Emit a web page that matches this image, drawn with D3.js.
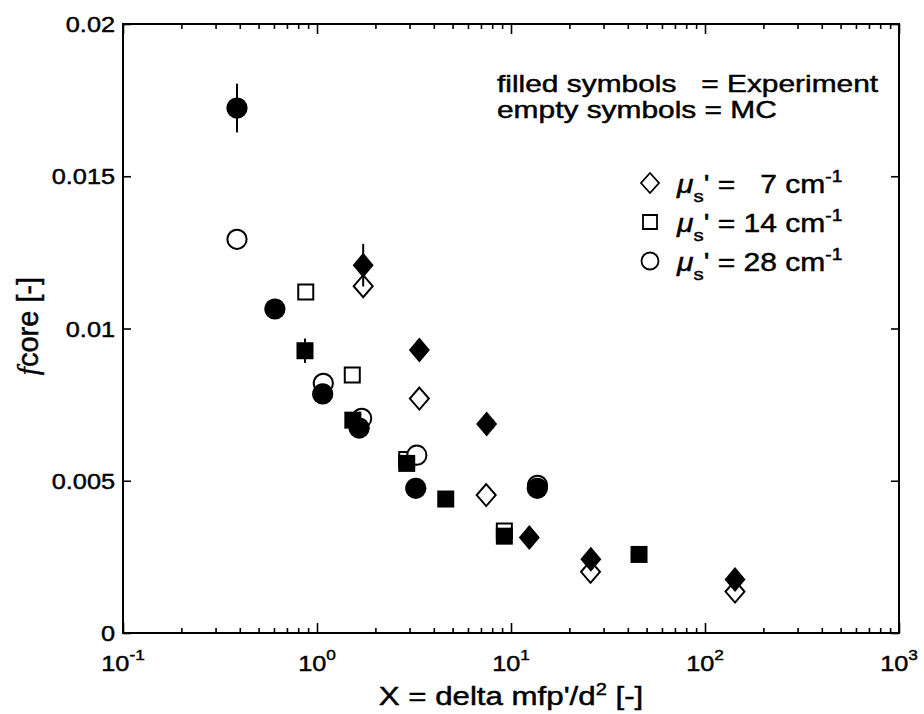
<!DOCTYPE html>
<html><head><meta charset="utf-8">
<script src="https://cdn.jsdelivr.net/npm/d3@7"></script>
<style>
body{margin:0;background:#fff}
text{font-family:"Liberation Sans",Arial,Helvetica,sans-serif;fill:#000;white-space:pre;stroke:#000;stroke-width:0.45px}
</style>
</head><body>
<svg id="c" width="924" height="714"></svg>
<script>
// ---------- data ----------
const xTickExps = ["-1","0","1","2","3"];
const yTickValues = [0, 0.005, 0.01, 0.015, 0.02];
const yTickLabels = ["0", "0.005", "0.01", "0.015", "0.02"];

// mu_s' = 7 cm^-1 (diamonds)
const exp7X = [1.73, 3.37, 7.49, 12.43, 25.8, 142.8];
const exp7Y = [0.01208, 0.00929, 0.00686, 0.00314, 0.00242, 0.00176];
const exp7Err = [0.0007, 0, 0, 0, 0, 0];
const mc7X = [1.73, 3.37, 7.45, 25.7, 142.8];
const mc7Y = [0.01139, 0.0077, 0.00453, 0.00201, 0.00136];

// mu_s' = 14 cm^-1 (squares)
const exp14X = [0.867, 1.53, 2.90, 4.61, 9.24, 45.7];
const exp14Y = [0.00927, 0.00699, 0.00557, 0.0044, 0.00318, 0.00258];
const exp14Err = [0.0004, 0, 0, 0, 0, 0];
const mc14X = [0.875, 1.52, 2.90, 9.24];
const mc14Y = [0.0112, 0.00847, 0.0057, 0.00335];

// mu_s' = 28 cm^-1 (circles)
const exp28X = [0.387, 0.607, 1.07, 1.65, 3.23, 13.67];
const exp28Y = [0.01724, 0.01064, 0.00785, 0.00673, 0.00475, 0.00475];
const exp28Err = [0.0008, 0, 0.0003, 0, 0, 0];
const mc28X = [0.387, 1.078, 1.70, 3.27, 13.7];
const mc28Y = [0.01293, 0.0082, 0.00705, 0.00584, 0.00485];

const legendValues = ["  7", "14", "28"];
const legendShapes = ["diamond", "square", "circle"];

// ---------- layout ----------
const L = 123, R = 899, T = 24, B = 633;
const svg = d3.select("#c");
const x = d3.scaleLog().domain([0.1, 1000]).range([L, R]);
const y = d3.scaleLinear().domain([0, 0.02]).range([B, T]);

function stext(parent, px, py, sx, anchor, fs) {
  return parent.append("text")
    .attr("transform", `translate(${px},${py}) scale(${sx},1)`)
    .attr("text-anchor", anchor || "start")
    .attr("font-size", fs);
}

// shapes
const diamondType = (w, h) => ({draw(ctx) {
  ctx.moveTo(0, -h / 2); ctx.lineTo(w / 2, 0); ctx.lineTo(0, h / 2); ctx.lineTo(-w / 2, 0); ctx.closePath();
}});
const squareType = (s) => ({draw(ctx) { ctx.rect(-s / 2, -s / 2, s, s); }});
const circleType = (r) => ({draw(ctx) { ctx.moveTo(r, 0); ctx.arc(0, 0, r, 0, 2 * Math.PI); ctx.closePath(); }});

const shapeFilled = {diamond: diamondType(21, 25), square: squareType(17), circle: circleType(10.6)};
const shapeOpen = {diamond: diamondType(19, 22), square: squareType(15), circle: circleType(9.6)};
const shapeLegend = {diamond: diamondType(18, 20), square: squareType(14), circle: circleType(8.5)};

// ---------- axes box & ticks ----------
const majors = [0.1, 1, 10, 100, 1000];
const minors = [];
[0.1, 1, 10, 100].forEach(d => { for (let k = 2; k <= 9; k++) minors.push(d * k); });

function tickGroup(axisFn, scale, vals, size, tr) {
  const g = svg.append("g").attr("transform", tr)
    .call(axisFn(scale).tickValues(vals).tickSizeInner(-size).tickSizeOuter(0).tickFormat(""));
  g.select(".domain").remove();
  g.selectAll(".tick line").attr("stroke", "#000").attr("stroke-width", 1.6);
}
tickGroup(d3.axisBottom, x, majors, 10, `translate(0,${B})`);
tickGroup(d3.axisBottom, x, minors, 5, `translate(0,${B})`);
tickGroup(d3.axisTop, x, majors, 10, `translate(0,${T})`);
tickGroup(d3.axisTop, x, minors, 5, `translate(0,${T})`);
tickGroup(d3.axisLeft, y, yTickValues, 8, `translate(${L},0)`);
tickGroup(d3.axisRight, y, yTickValues, 8, `translate(${R},0)`);

svg.append("rect").attr("x", L).attr("y", T).attr("width", R - L).attr("height", B - T)
  .attr("fill", "none").attr("stroke", "#000").attr("stroke-width", 2);

// tick labels
yTickValues.forEach((v, i) => {
  stext(svg, 115, y(v) + 8, 1.15, "end", 22).text(yTickLabels[i]);
});
xTickExps.forEach(e => {
  const t = stext(svg, x(Math.pow(10, +e)), 671, 1.15, "middle", 22);
  t.append("tspan").text("10");
  t.append("tspan").attr("dy", -11).attr("font-size", 15).text(e);
});

// axis titles
const xt = stext(svg, 511, 705, 1.25, "middle", 25);
xt.append("tspan").text("X = delta mfp'/d");
xt.append("tspan").attr("dy", -10).attr("font-size", 16).text("2");
xt.append("tspan").attr("dy", 10).text(" [-]");

const yt = svg.append("text").attr("transform", "translate(38,326) rotate(-90)")
  .attr("text-anchor", "middle").attr("font-size", 29);
yt.append("tspan").attr("font-family", "'Liberation Serif','Times New Roman',serif").attr("font-style", "italic").text("f");
yt.append("tspan").text("core [-]");

// ---------- data marks ----------
function openMarks(xs, ys, shape) {
  svg.append("g").selectAll("path").data(xs.map((d, i) => [d, ys[i]])).join("path")
    .attr("d", d3.symbol().type(shapeOpen[shape])())
    .attr("transform", d => `translate(${x(d[0])},${y(d[1])})`)
    .attr("fill", "#fff").attr("stroke", "#000").attr("stroke-width", 2);
}
function filledMarks(xs, ys, errs, shape) {
  const data = xs.map((d, i) => [d, ys[i], errs[i]]);
  svg.append("g").selectAll("path").data(data).join("path")
    .attr("d", d3.symbol().type(shapeFilled[shape])())
    .attr("transform", d => `translate(${x(d[0])},${y(d[1])})`)
    .attr("fill", "#000");
  svg.append("g").selectAll("line").data(data.filter(d => d[2] > 0)).join("line")
    .attr("x1", d => x(d[0])).attr("x2", d => x(d[0]))
    .attr("y1", d => y(d[1] - d[2])).attr("y2", d => y(d[1] + d[2]))
    .attr("stroke", "#000").attr("stroke-width", 2);
}
openMarks(mc7X, mc7Y, "diamond");
openMarks(mc14X, mc14Y, "square");
openMarks(mc28X, mc28Y, "circle");
filledMarks(exp7X, exp7Y, exp7Err, "diamond");
filledMarks(exp14X, exp14Y, exp14Err, "square");
filledMarks(exp28X, exp28Y, exp28Err, "circle");

// ---------- legend ----------
stext(svg, 497, 92, 1.3, "start", 23).text("filled symbols   = Experiment");
stext(svg, 497, 118, 1.3, "start", 23).text("empty symbols = MC");

const legBase = [193, 232, 271];
legendValues.forEach((v, i) => {
  svg.append("path").attr("d", d3.symbol().type(shapeLegend[legendShapes[i]])())
    .attr("transform", `translate(650,${legBase[i] - 10})`)
    .attr("fill", "#fff").attr("stroke", "#000").attr("stroke-width", 1.8);
  const t = stext(svg, 677, legBase[i], 1.2, "start", 25);
  t.append("tspan").attr("font-style", "italic").text("\u03bc");
  t.append("tspan").attr("dy", 9).attr("font-size", 17).text("s");
  t.append("tspan").attr("dy", -9).text("' = " + v + " cm");
  t.append("tspan").attr("dy", -11).attr("font-size", 16).text("-1");
});
</script>
</body></html>
